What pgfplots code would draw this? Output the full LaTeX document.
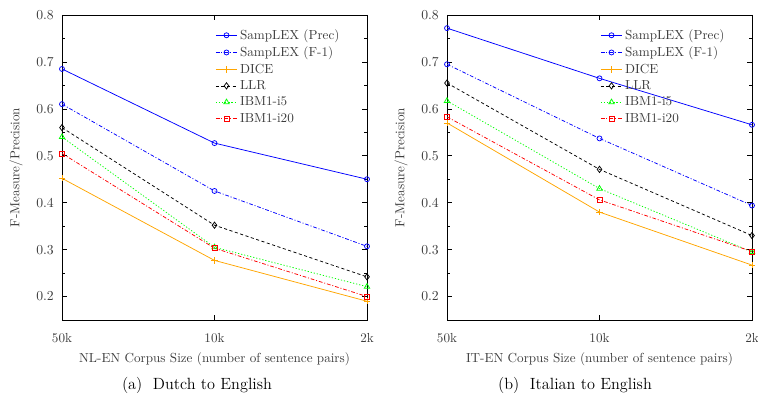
\documentclass[border=0pt]{standalone}
\usepackage{pgfplots}
\pgfplotsset{compat=1.18}
\definecolor{dice}{RGB}{255,165,0}
\definecolor{txt}{RGB}{60,60,60}
\newcommand{\gpfont}{\fontsize{10.5}{12.6}\selectfont}
\pgfplotsset{
  gp/.style={
    width=244pt, height=244pt, scale only axis,
    xmin=0, xmax=2, ymin=0.15, ymax=0.8,
    xtick={0,1,2}, xticklabels={50k,10k,2k},
    ytick={0.2,0.3,0.4,0.5,0.6,0.7,0.8},
    minor y tick num=1,
    tick align=inside, major tick length=4pt, minor tick length=2.5pt,
    tick style={black, line width=0.5pt},
    axis line style={line width=0.7pt},
    tick label style={font=\gpfont},
    yticklabel style={/pgf/number format/fixed, /pgf/number format/precision=1, /pgf/number format/fixed zerofill, text=txt, xshift=-3pt},
    xticklabel style={text=txt, yshift=-7pt},
    ylabel={F-Measure/Precision},
    ylabel style={text=txt, yshift=4pt, font=\gpfont},
    xlabel style={text=txt, yshift=-1pt, font=\gpfont},
    legend cell align=left,
    legend style={draw=none, fill=none, at={(0.49,0.97)}, anchor=north west, row sep=0.4pt, text=txt, font=\gpfont},
    every axis plot/.append style={line width=0.6pt},
  },
  sprec/.style={blue, solid, mark=o, mark size=2pt, mark options={solid}},
  sf/.style={blue, dash pattern=on 3pt off 1.5pt on 0.8pt off 1.5pt, mark=o, mark size=2pt, mark options={solid}},
  sdice/.style={dice, solid, mark=+, mark size=2.5pt, mark options={solid}},
  sllr/.style={black, dash pattern=on 2.5pt off 2pt, mark=diamond, mark size=2.5pt, mark options={solid}},
  si5/.style={green, dash pattern=on 1pt off 1.5pt, mark=triangle, mark size=2.5pt, mark options={solid}},
  si20/.style={red, dash pattern=on 3pt off 1.5pt on 0.8pt off 1.5pt, mark=square, mark size=2pt, mark options={solid}},
}
\begin{document}
\begin{tikzpicture}
\path[use as bounding box] (0,0) rectangle (606.4pt,316pt);
\begin{axis}[gp, at={(49.6pt,60pt)}, anchor=south west,
  xlabel={NL-EN Corpus Size (number of sentence pairs)}]
\addplot[sprec] coordinates {(0,0.685) (1,0.527) (2,0.450)};
\addlegendentry{SampLEX (Prec)}
\addplot[sf] coordinates {(0,0.610) (1,0.425) (2,0.307)};
\addlegendentry{SampLEX (F-1)}
\addplot[sdice] coordinates {(0,0.452) (1,0.277) (2,0.190)};
\addlegendentry{DICE}
\addplot[sllr] coordinates {(0,0.560) (1,0.352) (2,0.242)};
\addlegendentry{LLR}
\addplot[si5] coordinates {(0,0.540) (1,0.305) (2,0.221)};
\addlegendentry{IBM1-i5}
\addplot[si20] coordinates {(0,0.505) (1,0.303) (2,0.200)};
\addlegendentry{IBM1-i20}
\end{axis}
\begin{axis}[gp, at={(357.6pt,60pt)}, anchor=south west,
  xlabel={IT-EN Corpus Size (number of sentence pairs)}]
\addplot[sprec] coordinates {(0,0.772) (1,0.665) (2,0.566)};
\addlegendentry{SampLEX (Prec)}
\addplot[sf] coordinates {(0,0.695) (1,0.537) (2,0.394)};
\addlegendentry{SampLEX (F-1)}
\addplot[sdice] coordinates {(0,0.570) (1,0.380) (2,0.267)};
\addlegendentry{DICE}
\addplot[sllr] coordinates {(0,0.655) (1,0.471) (2,0.330)};
\addlegendentry{LLR}
\addplot[si5] coordinates {(0,0.617) (1,0.430) (2,0.295)};
\addlegendentry{IBM1-i5}
\addplot[si20] coordinates {(0,0.583) (1,0.406) (2,0.296)};
\addlegendentry{IBM1-i20}
\end{axis}
\node[font=\fontsize{13}{15}\selectfont] at (157.6pt,8pt) {(a)\ \ Dutch to English};
\node[font=\fontsize{13}{15}\selectfont] at (460pt,8pt) {(b)\ \ Italian to English};
\end{tikzpicture}
\end{document}
